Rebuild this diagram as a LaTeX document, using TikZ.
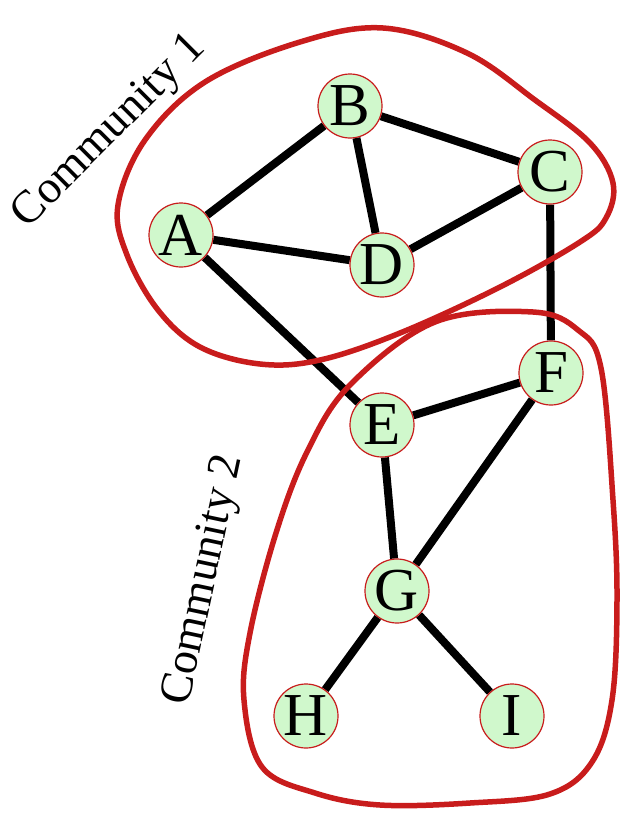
\documentclass[tikz,border=0pt]{standalone}
\usepackage{fontspec}
\setmainfont{Liberation Serif}
\usetikzlibrary{backgrounds}
\definecolor{vertexfill}{RGB}{208,248,204}
\definecolor{loopred}{RGB}{200,28,28}
\tikzset{
  vertex/.style={circle, draw=loopred, line width=1.2pt, fill=vertexfill,
    minimum size=64pt, inner sep=0pt, font=\fontsize{61}{61}\selectfont},
  link/.style={line width=8pt},
  community/.style={draw=loopred, line width=5.5pt},
  commlabel/.style={font=\fontsize{46}{46}\selectfont}
}
\begin{document}
\begin{tikzpicture}[x=1pt, y=-1pt]
        \useasboundingbox (0, 0) rectangle (625, 816);

        % Add the vertices
        \node[vertex] (A) at (181, 235) {A};
        \node[vertex] (B) at (350, 106) {B};
        \node[vertex] (C) at (550, 172) {C};
        \node[vertex] (D) at (382, 265) {D};
        \node[vertex] (E) at (382, 425) {E};
        \node[vertex] (F) at (551, 373) {F};
        \node[vertex] (G) at (397, 591) {G};
        \node[vertex] (H) at (306, 716) {H};
        \node[vertex] (I) at (512, 716) {I};

        % Label the communities
        \node[commlabel, rotate=45] (lab1) at (110, 132) {Community 1};
        \node[commlabel, rotate=78] (lab2) at (205, 580) {Community 2};

        \begin{pgfonlayer}{background}
        % Draw the edges
        \foreach \u/\v in {A/B, A/D, B/D, B/C, C/D, C/F, A/E, E/F, E/G, F/G, G/H, G/I}
          \draw[link] (\u) -- (\v);

        % Draw the two community loops
        \draw[community] plot[smooth cycle, tension=0.6] coordinates {
          (118,205) (145,140) (205,82) (300,42) (383,28) (467,53) (535,100)
          (590,143) (613,183) (606,218) (580,242) (500,287) (400,333)
          (320,360) (260,364) (200,347) (158,310) (127,255)};
        \draw[community] plot[smooth cycle, tension=0.6] coordinates {
          (350,385) (435,322) (533,312) (578,330) (601,368) (613,500)
          (617,600) (612,700) (592,762) (550,794) (470,803) (380,805)
          (315,793) (262,767) (244,700) (250,633) (276,533) (307,452)};
        \end{pgfonlayer}
    \end{tikzpicture}
\end{document}
